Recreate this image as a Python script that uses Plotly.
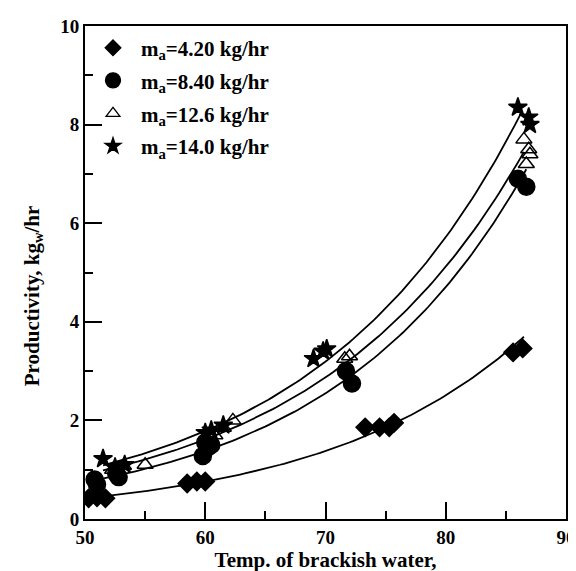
import numpy as np
import plotly.graph_objects as go

# Data
labels = ["m<sub>a</sub>=4.20 kg/hr", "m<sub>a</sub>=8.40 kg/hr",
          "m<sub>a</sub>=12.6 kg/hr", "m<sub>a</sub>=14.0 kg/hr"]

x_42 = [50.3, 51.0, 51.7, 58.5, 59.3, 60.0, 73.3, 74.5, 75.3, 75.7, 85.6, 86.4]
y_42 = [0.42, 0.44, 0.42, 0.72, 0.76, 0.76, 1.86, 1.86, 1.86, 1.95, 3.38, 3.46]

x_84 = [50.8, 51.0, 52.6, 52.8, 59.8, 60.0, 60.2, 60.5, 71.7, 72.2, 86.0, 86.7]
y_84 = [0.80, 0.70, 0.92, 0.85, 1.28, 1.55, 1.45, 1.50, 3.00, 2.75, 6.90, 6.74]

x_126 = [52.3, 53.2, 55.0, 60.8, 61.5, 62.3, 71.6, 72.0, 86.5, 86.9, 87.0, 86.7]
y_126 = [1.00, 1.08, 1.10, 1.70, 1.85, 2.00, 3.25, 3.30, 7.70, 7.50, 7.40, 7.20]

x_140 = [51.5, 52.5, 53.3, 60.0, 60.5, 61.5, 69.0, 69.8, 70.1, 86.0, 86.9, 87.0]
y_140 = [1.22, 1.05, 1.10, 1.75, 1.80, 1.90, 3.25, 3.40, 3.45, 8.35, 8.15, 8.00]

curve_start = [50.5, 50.8, 51.5, 51.5]
curve_end = [86.5, 86.7, 86.5, 86.3]

x_title = "<b>Temp. of brackish water,</b>"
y_title = "<b>Productivity, kg<sub>w</sub>/hr</b>"

symbols = ["diamond", "circle", "triangle-up-open", "star"]
marker_sizes = [14, 17, 14, 14]
legend_marker_sizes = [12, 15, 12, 12]
legend_rows = [0.955, 0.889, 0.822, 0.756]

series = [(x_42, y_42), (x_84, y_84), (x_126, y_126), (x_140, y_140)]

font_fam = "Liberation Serif, Times New Roman, serif"

fig = go.Figure()
for (xs, ys), x0, x1 in zip(series, curve_start, curve_end):
    b, a = np.polyfit(np.array(xs), np.log(np.array(ys)), 1)
    xc = np.linspace(x0, x1, 120)
    fig.add_trace(go.Scatter(x=xc, y=np.exp(a + b * xc), mode="lines",
                             line=dict(color="black", width=1.8),
                             showlegend=False, hoverinfo="skip"))
for (xs, ys), sym, sz in zip(series, symbols, marker_sizes):
    fig.add_trace(go.Scatter(x=xs, y=ys, mode="markers", showlegend=False,
                             marker=dict(symbol=sym, size=sz, color="black",
                                         line=dict(color="black", width=1.5))))

legend_layouts = {}
for i, (lab, sym, lsz, ly) in enumerate(zip(labels, symbols, legend_marker_sizes, legend_rows)):
    key = "legend" if i == 0 else f"legend{i + 1}"
    fig.add_trace(go.Scatter(x=[None], y=[None], mode="markers", name=lab, legend=key,
                             marker=dict(symbol=sym, size=lsz, color="black",
                                         line=dict(color="black", width=1.3))))
    legend_layouts[key] = dict(x=0.0, y=ly, xanchor="left", yanchor="middle",
                               bgcolor="rgba(0,0,0,0)", itemwidth=46,
                               font=dict(family=font_fam, size=21, color="black", weight="bold"))

axis_common = dict(showline=True, linecolor="black", linewidth=2, mirror=True,
                   ticks="inside", ticklen=17, tickwidth=2, tickcolor="black",
                   showgrid=False, zeroline=False,
                   tickfont=dict(family=font_fam, size=19, color="black", weight="bold"))

fig.update_layout(
    width=576, height=571,
    margin=dict(l=77, r=8, t=15, b=60),
    plot_bgcolor="white", paper_bgcolor="white",
    font=dict(family=font_fam, color="black"),
    xaxis=dict(range=[50, 90], dtick=10, tick0=50,
               minor=dict(ticks="inside", ticklen=8, dtick=5, tickwidth=2, tickcolor="black"),
               title=dict(text=x_title, font=dict(size=21, family=font_fam), standoff=2),
               **axis_common),
    yaxis=dict(range=[0, 10], dtick=2, tick0=0,
               minor=dict(ticks="inside", ticklen=8, dtick=1, tickwidth=2, tickcolor="black"),
               **axis_common),
    annotations=[dict(text=y_title, xref="paper", yref="paper", x=-0.108, y=0.452,
                      xanchor="center", yanchor="middle", textangle=-90, showarrow=False,
                      font=dict(size=21, family=font_fam, color="black"))],
    **legend_layouts,
)

fig.write_html("out.html")
